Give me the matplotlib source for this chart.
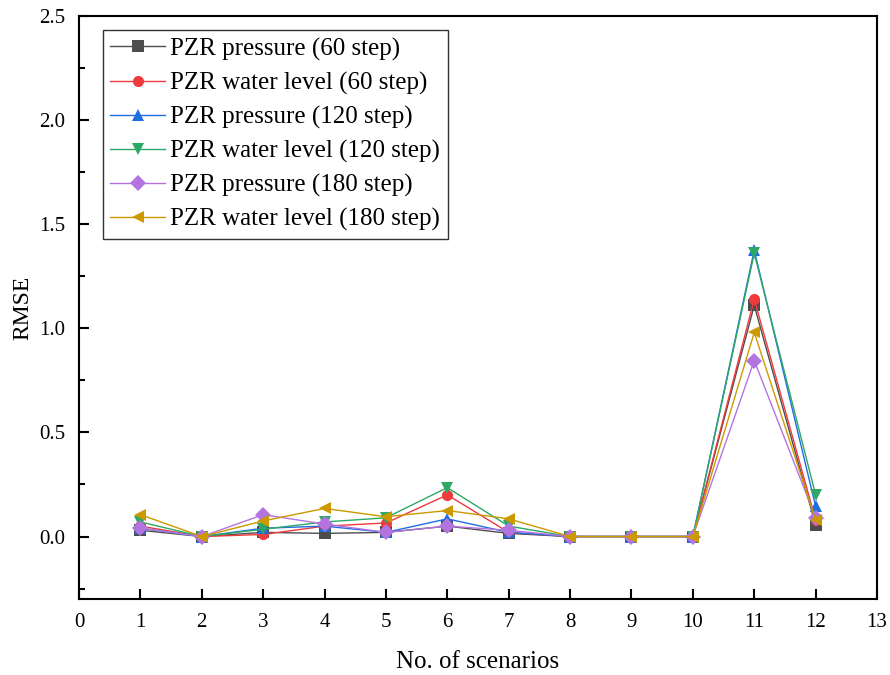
import matplotlib
matplotlib.use("Agg")
import matplotlib.pyplot as plt
from matplotlib.ticker import MultipleLocator

scenarios = [1, 2, 3, 4, 5, 6, 7, 8, 9, 10, 11, 12]

pzr_pressure_60 = [0.03, 0.0, 0.02, 0.015, 0.02, 0.05, 0.015, 0.0, 0.0, 0.0, 1.11, 0.055]
pzr_level_60 = [0.05, 0.0, 0.01, 0.05, 0.065, 0.20, 0.02, 0.0, 0.0, 0.0, 1.14, 0.08]
pzr_pressure_120 = [0.04, 0.0, 0.04, 0.05, 0.02, 0.085, 0.02, 0.0, 0.0, 0.0, 1.375, 0.145]
pzr_level_120 = [0.07, 0.0, 0.035, 0.07, 0.09, 0.235, 0.05, 0.0, 0.0, 0.0, 1.36, 0.20]
pzr_pressure_180 = [0.04, 0.0, 0.105, 0.06, 0.02, 0.05, 0.03, 0.0, 0.0, 0.0, 0.845, 0.09]
pzr_level_180 = [0.105, 0.0, 0.075, 0.135, 0.095, 0.125, 0.085, 0.0, 0.0, 0.0, 0.98, 0.08]

labels = [
    "PZR pressure (60 step)",
    "PZR water level (60 step)",
    "PZR pressure (120 step)",
    "PZR water level (120 step)",
    "PZR pressure (180 step)",
    "PZR water level (180 step)",
]
series = [pzr_pressure_60, pzr_level_60, pzr_pressure_120,
          pzr_level_120, pzr_pressure_180, pzr_level_180]
colors = ["#4d4d4d", "#ef3b3b", "#1f6ee0", "#2ea866", "#b474e0", "#cc9900"]
markers = ["s", "o", "^", "v", "D", "<"]
sizes = [8, 8, 9, 9, 8, 9]

plt.rcParams["font.family"] = ["Liberation Serif", "DejaVu Serif"]

fig = plt.figure(figsize=(8.9, 6.75), dpi=100)
ax = fig.add_axes([0.0888, 0.1126, 0.8966, 0.8637])

for vals, lab, c, m, ms in zip(series, labels, colors, markers, sizes):
    ax.plot(scenarios, vals, color=c, marker=m, markersize=ms, linewidth=1.0,
            label=lab, markeredgewidth=0)

ax.set_xlim(0, 13)
ax.set_ylim(-0.3, 2.5)
ax.xaxis.set_major_locator(MultipleLocator(1))
ax.yaxis.set_major_locator(MultipleLocator(0.5))
ax.yaxis.set_minor_locator(MultipleLocator(0.25))
ax.yaxis.set_major_formatter(matplotlib.ticker.FormatStrFormatter("%.1f"))

ax.tick_params(axis="both", which="major", direction="in", length=7, width=1.5,
               labelsize=15, top=False, right=False, pad=10)
ax.tick_params(axis="y", which="minor", direction="in", length=4, width=1.5,
               right=False)
for sp in ax.spines.values():
    sp.set_linewidth(1.5)

ax.set_xlabel("No. of scenarios", fontsize=18, labelpad=14)
ax.set_ylabel("RMSE", fontsize=17, labelpad=4)

leg = ax.legend(loc="upper left", bbox_to_anchor=(0.030, 0.976), fontsize=18,
                frameon=True, fancybox=False, edgecolor="black",
                handlelength=2.2, handletextpad=0.2, labelspacing=0.44,
                borderpad=0.3, borderaxespad=0.0)
leg.get_frame().set_linewidth(1.0)

fig.savefig("out.png", dpi=100)
